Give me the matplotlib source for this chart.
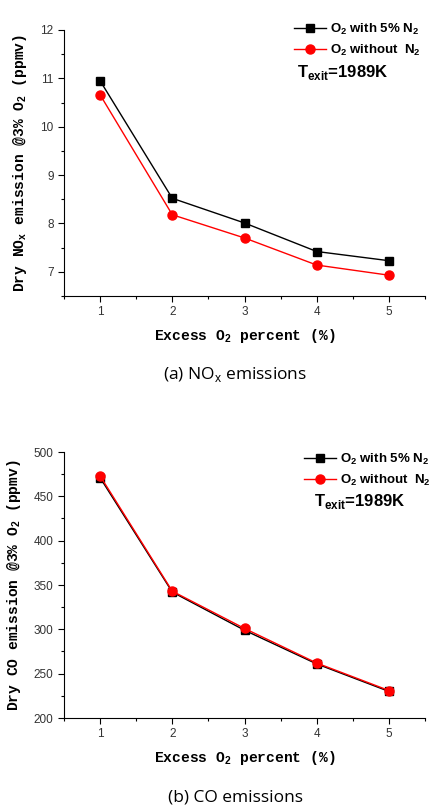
import matplotlib
matplotlib.use('Agg')
import matplotlib.pyplot as plt
from matplotlib.ticker import MultipleLocator

excess_o2 = [1, 2, 3, 4, 5]
nox_with_n2 = [10.95, 8.52, 8.01, 7.42, 7.23]
nox_without_n2 = [10.66, 8.18, 7.70, 7.14, 6.93]
co_with_n2 = [471, 342, 299, 261, 230]
co_without_n2 = [473, 343, 301, 262, 231]

label_with = r'O$_\mathbf{2}$ with 5% N$_\mathbf{2}$'
label_without = r'O$_\mathbf{2}$ without  N$_\mathbf{2}$'

plt.rcParams['font.family'] = ['Liberation Sans', 'DejaVu Sans']
plt.rcParams['mathtext.fontset'] = 'custom'
plt.rcParams['mathtext.rm'] = 'Liberation Sans'
plt.rcParams['mathtext.bf'] = 'Liberation Sans:bold'

W, H = 432, 805
fig = plt.figure(figsize=(W / 100, H / 100), dpi=100)


def px_axes(left, top, right, bottom):
    return fig.add_axes([left / W, 1 - bottom / H, (right - left) / W, (bottom - top) / H])


def style(ax, ylim, major, minor, ylabel):
    ax.set_xlim(0.5, 5.5)
    ax.set_ylim(*ylim)
    ax.spines['top'].set_visible(False)
    ax.spines['right'].set_visible(False)
    ax.xaxis.set_major_locator(MultipleLocator(1))
    ax.xaxis.set_minor_locator(MultipleLocator(0.5))
    ax.yaxis.set_major_locator(MultipleLocator(major))
    ax.yaxis.set_minor_locator(MultipleLocator(minor))
    ax.tick_params(which='major', direction='out', length=4, width=0.8,
                   labelsize=8.5, labelcolor='#333333')
    ax.tick_params(which='minor', direction='out', length=2.5, width=0.8)
    ax.set_xlabel(r'Excess O$_\mathbf{2}$ percent (%)', family='Liberation Mono',
                  fontweight='bold', fontsize=10.5, labelpad=6)
    ax.set_ylabel(ylabel, family='Liberation Mono', fontweight='bold', fontsize=10.5, labelpad=8)


def annotate(ax, legend_xy, texit_xy):
    ax.legend(loc='upper left', bbox_to_anchor=(legend_xy[0] / W, 1 - legend_xy[1] / H),
              bbox_transform=fig.transFigure, frameon=False, handlelength=2.4,
              handletextpad=0.3, labelspacing=0.45,
              prop={'weight': 'bold', 'size': 9.5})
    fig.text(texit_xy[0] / W, 1 - texit_xy[1] / H, r'T$_{\mathbf{exit}}$=1989K',
             fontweight='bold', fontsize=12, va='center')


# (a) NOx
ax1 = px_axes(64, 30, 425, 296)
ax1.plot(excess_o2, nox_with_n2, color='black', marker='s', markersize=6, lw=1,
         label=label_with)
ax1.plot(excess_o2, nox_without_n2, color='red', marker='o', markersize=6.5, lw=1,
         label=label_without)
style(ax1, (6.5, 12), 1, 0.5, r'Dry NO$_\mathbf{x}$ emission @3% O$_\mathbf{2}$ (ppmv)')
annotate(ax1, (282, 10), (297, 72))
fig.text(235 / W, 1 - 374 / H, '(a) NO$_\\mathrm{x}$ emissions', family='Open Sans',
         fontsize=12.5, ha='center', va='center')

# (b) CO
ax2 = px_axes(64, 452, 425, 718)
ax2.plot(excess_o2, co_with_n2, color='black', marker='s', markersize=6, lw=1,
         label=label_with)
ax2.plot(excess_o2, co_without_n2, color='red', marker='o', markersize=6.5, lw=1,
         label=label_without)
style(ax2, (200, 500), 50, 25, r'Dry CO emission @3% O$_\mathbf{2}$ (ppmv)')
annotate(ax2, (292, 440), (314, 501))
fig.text(235 / W, 1 - 797 / H, '(b) CO emissions', family='Open Sans',
         fontsize=12.5, ha='center', va='center')

fig.savefig('out.png', dpi=100)
